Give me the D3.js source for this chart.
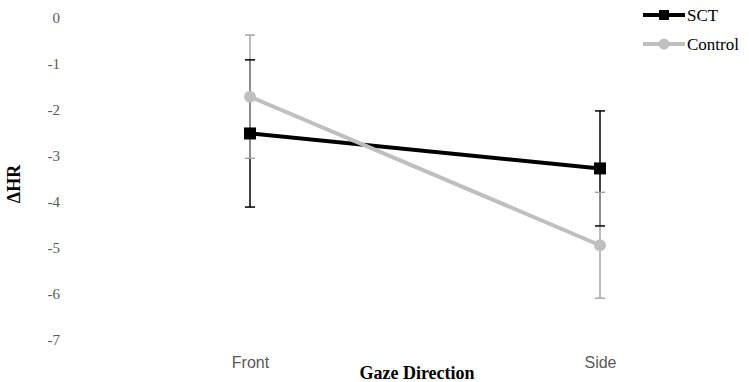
<!DOCTYPE html>
<html>
<head>
<meta charset="utf-8">
<script src="https://cdn.jsdelivr.net/npm/d3@7"></script>
<style>
  html, body { margin: 0; padding: 0; background: #fff; }
  svg { display: block; }
</style>
</head>
<body>
<svg id="chart" width="749" height="382"></svg>
<script>
// Change in heart rate by gaze direction, with error bars
const categories = ["Front", "Side"];
const sctMeans = [-2.51, -3.27];
const sctErrors = [1.60, 1.25];
const controlMeans = [-1.71, -4.94];
const controlErrors = [1.34, 1.15];
const yTickValues = [0, -1, -2, -3, -4, -5, -6, -7];
const seriesNames = ["SCT", "Control"];

const svg = d3.select("#chart");

const x = d3.scalePoint().domain(categories).range([250, 600]);
const y = d3.scaleLinear().domain([-7, 0]).range([340, 18]);

const series = [
  { name: seriesNames[0], means: sctMeans, errors: sctErrors,
    line: "#000000", bar: "#000000", marker: "square" },
  { name: seriesNames[1], means: controlMeans, errors: controlErrors,
    line: "#bfbfbf", bar: "#a6a6a6", marker: "circle" }
];

// Y axis (labels only, plain hyphen for negatives)
const yAxis = svg.append("g")
  .attr("transform", "translate(60,0)")
  .call(d3.axisLeft(y).tickValues(yTickValues).tickSize(0).tickPadding(0).tickFormat(d => String(d)));
yAxis.select(".domain").remove();
yAxis.selectAll("text")
  .attr("font-family", "'Liberation Serif', 'Times New Roman', serif")
  .attr("font-size", 15)
  .attr("fill", "#595959");

// X axis (labels only)
const xAxis = svg.append("g")
  .attr("transform", "translate(0,350)")
  .call(d3.axisBottom(x).tickSize(0).tickPadding(7));
xAxis.select(".domain").remove();
xAxis.selectAll("text")
  .attr("font-family", "'Liberation Sans', Arial, sans-serif")
  .attr("font-size", 16)
  .attr("fill", "#595959");

// Axis titles
svg.append("text")
  .attr("transform", "translate(19.5,184) rotate(-90)")
  .attr("text-anchor", "middle")
  .attr("font-family", "'Liberation Serif', 'Times New Roman', serif")
  .attr("font-weight", "bold")
  .attr("font-size", 18)
  .attr("fill", "#000")
  .text("ΔHR");

svg.append("text")
  .attr("x", 417)
  .attr("y", 379)
  .attr("text-anchor", "middle")
  .attr("font-family", "'Liberation Serif', 'Times New Roman', serif")
  .attr("font-weight", "bold")
  .attr("font-size", 18)
  .attr("fill", "#000")
  .text("Gaze Direction");

// Error bars: vertical stems
const capHalf = 5;
series.forEach(s => {
  const g = svg.append("g");
  categories.forEach((c, i) => {
    g.append("line")
      .attr("x1", x(c)).attr("x2", x(c))
      .attr("y1", y(s.means[i] + s.errors[i]))
      .attr("y2", y(s.means[i] - s.errors[i]))
      .attr("stroke", s.bar).attr("stroke-width", 1.5);
  });
});
// Error bar caps
series.forEach(s => {
  const g = svg.append("g");
  categories.forEach((c, i) => {
    [s.means[i] + s.errors[i], s.means[i] - s.errors[i]].forEach(v => {
      g.append("line")
        .attr("x1", x(c) - capHalf).attr("x2", x(c) + capHalf)
        .attr("y1", y(v)).attr("y2", y(v))
        .attr("stroke", s.bar).attr("stroke-width", 1.5);
    });
  });
});

// Series lines and markers
const line = d3.line().x((d, i) => x(categories[i])).y(d => y(d));
series.forEach(s => {
  svg.append("path")
    .datum(s.means)
    .attr("d", line)
    .attr("fill", "none")
    .attr("stroke", s.line)
    .attr("stroke-width", 4);
  categories.forEach((c, i) => {
    if (s.marker === "square") {
      svg.append("rect")
        .attr("x", x(c) - 6).attr("y", y(s.means[i]) - 6)
        .attr("width", 12).attr("height", 12)
        .attr("fill", s.line);
    } else {
      svg.append("circle")
        .attr("cx", x(c)).attr("cy", y(s.means[i]))
        .attr("r", 6)
        .attr("fill", s.line);
    }
  });
});

// Legend
const legend = svg.append("g");
series.forEach((s, i) => {
  const ly = 15 + i * 29;
  legend.append("line")
    .attr("x1", 643).attr("x2", 685)
    .attr("y1", ly).attr("y2", ly)
    .attr("stroke", s.line).attr("stroke-width", 4);
  if (s.marker === "square") {
    legend.append("rect")
      .attr("x", 659).attr("y", ly - 5)
      .attr("width", 10).attr("height", 10)
      .attr("fill", s.line);
  } else {
    legend.append("circle")
      .attr("cx", 664).attr("cy", ly).attr("r", 5.5)
      .attr("fill", s.line);
  }
  legend.append("text")
    .attr("x", 687).attr("y", ly + 6)
    .attr("font-family", "'Liberation Serif', 'Times New Roman', serif")
    .attr("font-size", 17)
    .attr("fill", "#000")
    .text(s.name);
});
</script>
</body>
</html>
